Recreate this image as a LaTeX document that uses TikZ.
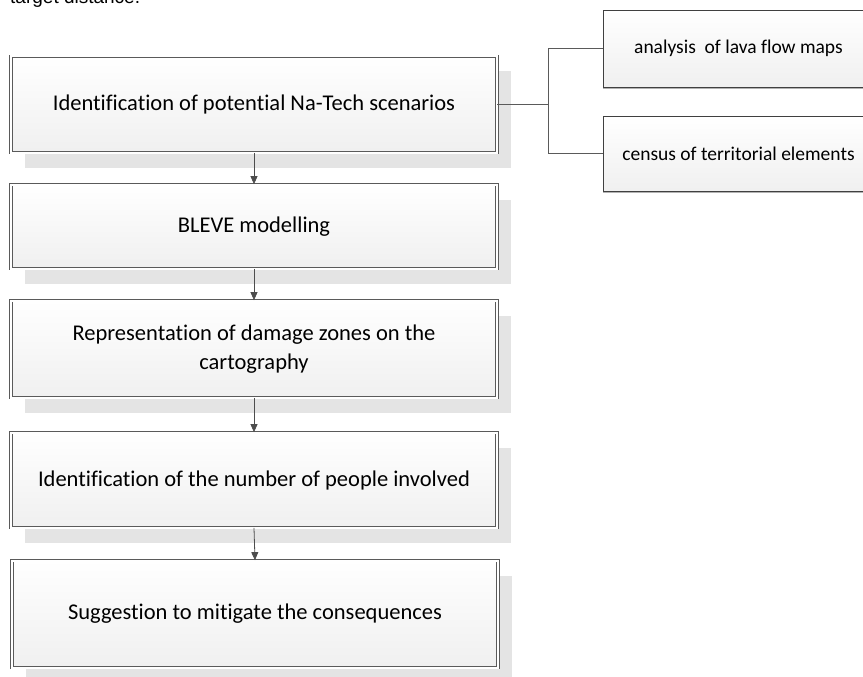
\documentclass[tikz,border=0pt]{standalone}
\usepackage{fontspec}
\setmainfont{Carlito}[Ligatures=NoCommon]
\newfontfamily\arialf{Liberation Sans}
\usetikzlibrary{arrows.meta,shadows}
\definecolor{edge}{HTML}{5A5A5A}
\definecolor{shadowc}{HTML}{E4E4E4}
\definecolor{arrowc}{HTML}{4D4D4D}
\tikzset{
  stepbox/.style={rectangle, draw=edge, double=white, double distance=2pt, line width=0.7pt,
    top color=white, bottom color=gray!12, minimum width=486pt, align=center,
    font=\fontsize{22.5}{27}\selectfont, inner sep=0pt,
    drop shadow={shadow xshift=14pt, shadow yshift=-15pt, fill=shadowc, opacity=1}},
  sidebox/.style={rectangle, draw=black!75, line width=0.7pt,
    top color=white, bottom color=gray!12, minimum width=271pt, align=center,
    font=\fontsize{19.5}{23}\selectfont, inner sep=0pt,
    drop shadow={shadow xshift=0pt, shadow yshift=-2pt, fill=gray!60, opacity=1}},
  flow/.style={draw=arrowc, line width=0.8pt, -{Triangle[length=8pt,width=7pt]}},
  link/.style={draw=edge, line width=0.8pt}
}
\begin{document}
\begin{tikzpicture}[x=1pt,y=-1pt]
\useasboundingbox (0,0) rectangle (863,677);
\clip (0,0) rectangle (863,677);
\node[anchor=base west, font=\arialf\fontsize{19}{21}\selectfont, inner sep=0pt] (top) at (10,4) {target distance.};
\node[stepbox, minimum height=96pt] (b1) at (254,104.5) {Identification of potential Na-Tech scenarios};
\node[stepbox, minimum height=84pt] (b2) at (254,226.5) {BLEVE modelling};
\node[stepbox, minimum height=97pt] (b3) at (254,349) {Representation of damage zones on the\\[2pt]cartography};
\node[stepbox, minimum height=95pt] (b4) at (254,480) {Identification of the number of people involved};
\node[stepbox, minimum height=107pt] (b5) at (255,614) {Suggestion to mitigate the consequences};
\node[sidebox, minimum height=77pt] (sa) at (738.5,48.5) {analysis\ \ of lava flow maps};
\node[sidebox, minimum height=75pt] (sb) at (738.5,153.5) {census of territorial elements};
\coordinate (j) at (548,104);
\draw[link] (b1.east) -- (b1.east -| j);
\draw[link] (sa.west) -- (sa.west -| j) -- (sb.west -| j) -- (sb.west);
\draw[flow] (b1.south) -- (b2.north);
\draw[flow] (b2.south) -- (b3.north);
\draw[flow] (b3.south) -- (b4.north);
\draw[flow] (b4.south) -- (b5.north);
\end{tikzpicture}
\end{document}
